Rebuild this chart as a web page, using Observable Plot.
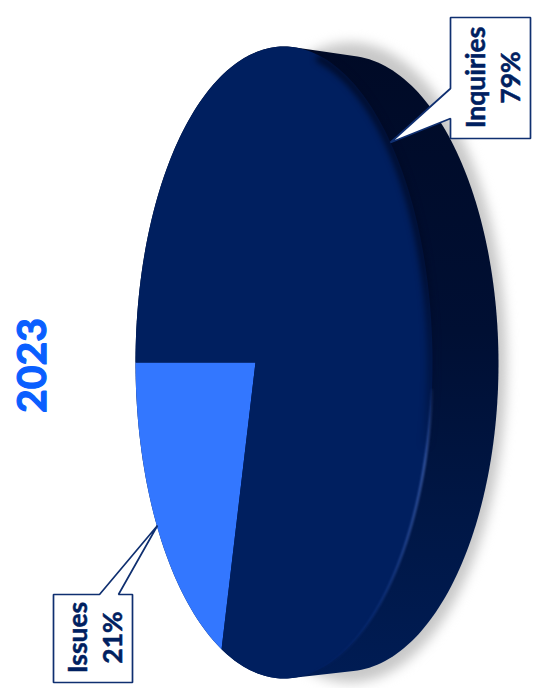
<!DOCTYPE html>
<html>
<head>
<meta charset="utf-8">
<script src="https://cdn.jsdelivr.net/npm/d3@7"></script>
<script src="https://cdn.jsdelivr.net/npm/@observablehq/plot@0.6"></script>
<style>html,body{margin:0;padding:0;background:#fff}svg{display:block}</style>
</head>
<body>
<div id="chart"></div>
<script>
const categories = ["Issues", "Inquiries"];
const shares = [21, 79];
const chartTitle = "2023";
const sliceColors = ["#3377ff", "#001f5f"];
const navy = "#002060";

const W = 539, H = 688;
const X0 = 135, X1 = 432, Y0 = 46, Y1 = 678;
const ux = (px) => -1 + 2 * (px - X0) / (X1 - X0);
const uy = (py) => -1 + 2 * (py - Y0) / (Y1 - Y0);

const tilt = -0.192;
const persp = (t) => {
  const cx = -Math.cos(2 * Math.PI * t), cy = Math.sin(2 * Math.PI * t);
  const k = 1 + tilt * cx;
  return { x: (cx + tilt) / k, y: cy * Math.sqrt(1 - tilt * tilt) / k };
};
const total = d3.sum(shares);
let running = 0;
const sliceRows = [];
categories.forEach((name, i) => {
  const from = running / total, to = (running + shares[i]) / total;
  running += shares[i];
  sliceRows.push({ name, x: tilt, y: 0 });
  const n = Math.ceil((to - from) * 300);
  for (let j = 0; j <= n; j++) sliceRows.push({ name, ...persp(from + (to - from) * j / n) });
});

const ellipse = (cx, cy, rx, ry, a = 0, b = 360, n = 240) =>
  d3.range(n + 1).map((i) => {
    const r = (a + (b - a) * i / n) * Math.PI / 180;
    return { x: ux(cx + rx * Math.cos(r)), y: uy(cy + ry * Math.sin(r)) };
  });
const front = ellipse(283.5, 362, 148.5, 316);
const back = ellipse(345, 363, 153, 308);
const hull = d3.polygonHull([...front, ...back].map((d) => [d.x, d.y])).map(([x, y]) => ({ x, y }));
const shadow = ellipse(350, 362, 156, 320);
const darkArc = ellipse(283.5, 362, 147, 313, -76, 15);
const lightArc = ellipse(283.5, 362, 148.5, 316, 5, 88);

const boxes = [
  { x1: 53, x2: 132, y1: 594, y2: 682, tip: [157, 525], side: "top", a: 99, b: 118 },
  { x1: 450, x2: 530, y1: 17, y2: 138, tip: [390, 142], side: "left", a: 88, b: 118 }
];
const calloutRows = boxes.flatMap((b, i) => {
  const pts = b.side === "top"
    ? [[b.x1, b.y1], [b.a, b.y1], b.tip, [b.b, b.y1], [b.x2, b.y1], [b.x2, b.y2], [b.x1, b.y2]]
    : [[b.x1, b.y1], [b.x2, b.y1], [b.x2, b.y2], [b.x1, b.y2], [b.x1, b.b], b.tip, [b.x1, b.a]];
  return pts.map(([x, y]) => ({ z: i, x: ux(x), y: uy(y) }));
});
const labelRows = categories.map((name, i) => ({
  text: `${name}\n${shares[i]}%`,
  x: ux([93, 491][i]),
  y: uy([637, 77][i])
}));

const defs = () => {
  const d = d3.create("svg:defs");
  const grad = (id, stops) => {
    const g = d.append("linearGradient").attr("id", id).attr("gradientUnits", "userSpaceOnUse")
      .attr("x1", 0).attr("x2", 0).attr("y1", 46).attr("y2", 678);
    stops.forEach(([o, c, op]) => g.append("stop").attr("offset", o).attr("stop-color", c).attr("stop-opacity", op));
  };
  grad("sideGrad", [[0, "#000a26", 1], [0.45, "#000f33", 1], [0.75, "#001746", 1], [1, "#001c54", 1]]);
  grad("darkGrad", [[0, "#000a26", 1], [0.35, "#000a26", 0.9], [0.55, "#000f33", 0.6], [0.66, "#000f33", 0]]);
  grad("lightGrad", [[0.52, "#3f62b0", 0], [0.66, "#3f62b0", 1], [0.78, "#2f52a0", 0.9], [0.9, "#0e337f", 0.7], [0.99, "#0e337f", 0]]);
  return d.node();
};

const closed = { x: "x", y: "y", curve: "linear-closed" };
const plot = Plot.plot({
  width: W, height: H, margin: 0,
  x: { domain: [-1, 1], range: [X0, X1], axis: null },
  y: { domain: [-1, 1], range: [Y0, Y1], axis: null },
  color: { domain: categories, range: sliceColors },
  style: { background: "#fff" },
  marks: [
    defs,
    Plot.line(shadow, { ...closed, fill: "#c8c8c8", stroke: "none", imageFilter: "blur(6px)" }),
    Plot.line(hull, { ...closed, fill: "url(#sideGrad)", stroke: "none" }),
    Plot.line(sliceRows, { ...closed, z: "name", fill: "name", stroke: "none" }),
    Plot.line(darkArc, { x: "x", y: "y", stroke: "url(#darkGrad)", strokeWidth: 7, imageFilter: "blur(3px)" }),
    Plot.line(lightArc, { x: "x", y: "y", stroke: "url(#lightGrad)", strokeWidth: 2, imageFilter: "blur(0.8px)" }),
    Plot.line(calloutRows, { ...closed, z: "z", fill: "#fff", stroke: "#0f2f70", strokeWidth: 1.7, strokeLinejoin: "miter" }),
    Plot.text(labelRows, { x: "x", y: "y", text: "text", rotate: -90, fontFamily: "Lato", fontWeight: 700, fontSize: 26.5, lineHeight: 1.32, fill: navy, stroke: navy, strokeWidth: 0.5 }),
    Plot.text([chartTitle], { x: [ux(32)], y: [uy(365)], text: (d) => d, rotate: -90, fontFamily: "Lato", fontWeight: 700, fontSize: 41, fill: "#0a5fff", stroke: "#0a5fff", strokeWidth: 1.2 })
  ]
});
document.getElementById("chart").appendChild(plot);
</script>
</body>
</html>
